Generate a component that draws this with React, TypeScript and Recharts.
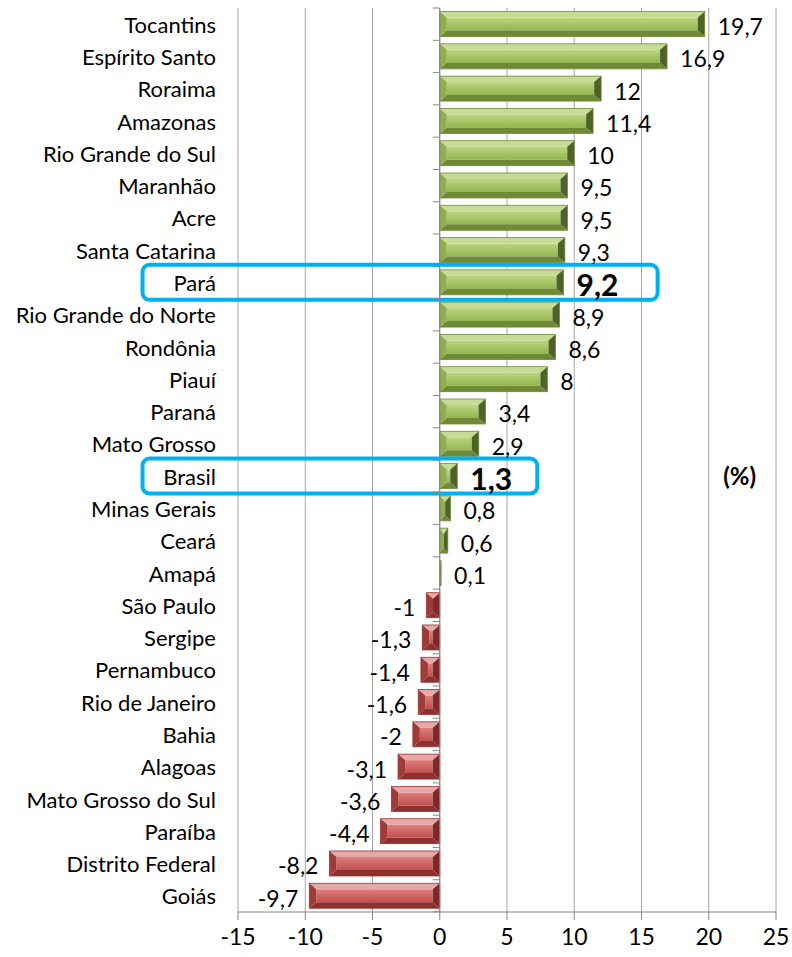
import React from 'react';
import { BarChart, Bar, XAxis, YAxis, CartesianGrid, LabelList, ReferenceLine, ReferenceDot } from 'recharts';

const states = [
  'Tocantins', 'Espírito Santo', 'Roraima', 'Amazonas', 'Rio Grande do Sul', 'Maranhão', 'Acre',
  'Santa Catarina', 'Pará', 'Rio Grande do Norte', 'Rondônia', 'Piauí', 'Paraná', 'Mato Grosso',
  'Brasil', 'Minas Gerais', 'Ceará', 'Amapá', 'São Paulo', 'Sergipe', 'Pernambuco', 'Rio de Janeiro',
  'Bahia', 'Alagoas', 'Mato Grosso do Sul', 'Paraíba', 'Distrito Federal', 'Goiás',
];
const growth = [
  19.7, 16.9, 12, 11.4, 10, 9.5, 9.5, 9.3, 9.2, 8.9, 8.6, 8, 3.4, 2.9,
  1.3, 0.8, 0.6, 0.1, -1, -1.3, -1.4, -1.6, -2, -3.1, -3.6, -4.4, -8.2, -9.7,
];
const xTicks = [-15, -10, -5, 0, 5, 10, 15, 20, 25];
const highlighted = ['Pará', 'Brasil'];
const unitLabel = '(%)';

// annotation box extents (in axis units)
const boxLeftUnits = -22.1;
const boxRightUnits: Record<string, number> = { 'Pará': 16.2, 'Brasil': 7.25 };

const data = states.map((name, i) => ({ name, value: growth[i] }));

const FONT = 'Lato, "Open Sans", sans-serif';
const CAT_GAP = 0.11;

const palettes = {
  green: { top: '#c6dc95', bottom: '#6e8a35', left: '#8fae4f', right: '#4f6228', c1: '#bcd580', c2: '#94b550', stroke: '#6f8a38' },
  red: { top: '#e7a9a7', bottom: '#8e302e', left: '#9e3a38', right: '#7d2927', c1: '#de7e7b', c2: '#c0504d', stroke: '#943634' },
};

const fmt = (v: number) => String(v).replace('.', ',');

const BevelBar = (props: any) => {
  const { x, y, width, height, payload, index } = props;
  const v: number = payload.value;
  const left = Math.min(x, x + width);
  const w = Math.abs(width);
  const t = y;
  const h = height;
  const pal = v < 0 ? palettes.red : palettes.green;
  const bx = Math.min(7, w / 2);
  const by = Math.min(6, h / 2);
  const gid = `g${index}`;
  const zeroX = v >= 0 ? left : left + w;
  const band = h / (1 - 2 * CAT_GAP);
  const bandTop = t - (band - h) / 2;
  const ppu = Math.abs(v) > 0 ? w / Math.abs(v) : 0;
  const pts = (arr: number[][]) => arr.map((p) => p.join(',')).join(' ');
  const isHl = highlighted.includes(payload.name);
  return (
    <g>
      <defs>
        <linearGradient id={gid} x1="0" y1="0" x2="0" y2="1">
          <stop offset="0%" stopColor={pal.c1} />
          <stop offset="100%" stopColor={pal.c2} />
        </linearGradient>
      </defs>
      {w > 0.2 && (
        <g>
          <rect x={left + bx} y={t + by} width={Math.max(0, w - 2 * bx)} height={Math.max(0, h - 2 * by)} fill={`url(#${gid})`} />
          <polygon points={pts([[left, t], [left + w, t], [left + w - bx, t + by], [left + bx, t + by]])} fill={pal.top} />
          <polygon points={pts([[left, t + h], [left + w, t + h], [left + w - bx, t + h - by], [left + bx, t + h - by]])} fill={pal.bottom} />
          <polygon points={pts([[left, t], [left + bx, t + by], [left + bx, t + h - by], [left, t + h]])} fill={pal.left} />
          <polygon points={pts([[left + w, t], [left + w - bx, t + by], [left + w - bx, t + h - by], [left + w, t + h]])} fill={pal.right} />
          <rect x={left} y={t} width={w} height={h} fill="none" stroke={pal.stroke} strokeWidth={0.8} />
        </g>
      )}
      <line x1={zeroX - 7} x2={zeroX} y1={bandTop} y2={bandTop} stroke="#868686" strokeWidth={1} />
      {index === states.length - 1 && (
        <line x1={zeroX - 7} x2={zeroX} y1={bandTop + band} y2={bandTop + band} stroke="#868686" strokeWidth={1} />
      )}
      {isHl && ppu > 0 && (
        <rect
          x={zeroX + boxLeftUnits * ppu}
          y={bandTop - 1.5}
          width={(boxRightUnits[payload.name] - boxLeftUnits) * ppu}
          height={band + 3}
          rx={7}
          ry={7}
          fill="none"
          stroke="#00b0f0"
          strokeWidth={4}
        />
      )}
    </g>
  );
};

const ValueLabel = (props: any) => {
  const { x, y, width, height, value, index } = props;
  const left = Math.min(x, x + width);
  const w = Math.abs(width);
  const bold = highlighted.includes(states[index]);
  const neg = value < 0;
  const tx = neg ? left - 11 : left + w + 13;
  return (
    <text
      x={tx}
      y={y + height / 2 + 2}
      textAnchor={neg ? 'end' : 'start'}
      dominantBaseline="central"
      fontFamily={FONT}
      fontSize={bold ? 30 : 23}
      fontWeight={bold ? 700 : 400}
      fill="#000"
    >
      {fmt(value)}
    </text>
  );
};

const CatTick = (props: any) => {
  const { x, y, payload } = props;
  return (
    <text x={x} y={y} textAnchor="end" dominantBaseline="central" fontFamily={FONT} fontSize={22} fill="#000">
      {payload.value}
    </text>
  );
};

export default function App() {
  return (
    <div style={{ position: 'absolute', left: 0, top: 0, width: 792, height: 957, background: '#fff' }}>
      <BarChart
        width={792}
        height={957}
        data={data}
        layout="vertical"
        margin={{ top: 8, right: 16, bottom: 0, left: 0 }}
        barCategoryGap={`${CAT_GAP * 100}%`}
      >
        <CartesianGrid horizontal={false} vertical stroke="#a6a6a6" strokeWidth={1} />
        <XAxis
          type="number"
          domain={[-15, 25]}
          ticks={xTicks}
          interval={0}
          height={45}
          axisLine={{ stroke: '#868686' }}
          tickLine={{ stroke: '#868686' }}
          tickSize={8}
          tickMargin={9}
          tick={{ fontFamily: FONT, fontSize: 23, fill: '#000' }}
        />
        <YAxis
          type="category"
          dataKey="name"
          width={238}
          axisLine={false}
          tickLine={false}
          tickSize={0}
          tickMargin={22}
          interval={0}
          tick={<CatTick />}
        />
        <ReferenceLine x={0} stroke="#868686" strokeWidth={1} />
        <Bar dataKey="value" shape={<BevelBar />} isAnimationActive={false}>
          <LabelList dataKey="value" content={<ValueLabel />} />
        </Bar>
        <ReferenceDot
          x={22.3}
          y="Brasil"
          r={0}
          fill="none"
          stroke="none"
          label={{ value: unitLabel, fontFamily: FONT, fontSize: 24, fontWeight: 700, fill: '#000', position: 'center' }}
        />
      </BarChart>
    </div>
  );
}
